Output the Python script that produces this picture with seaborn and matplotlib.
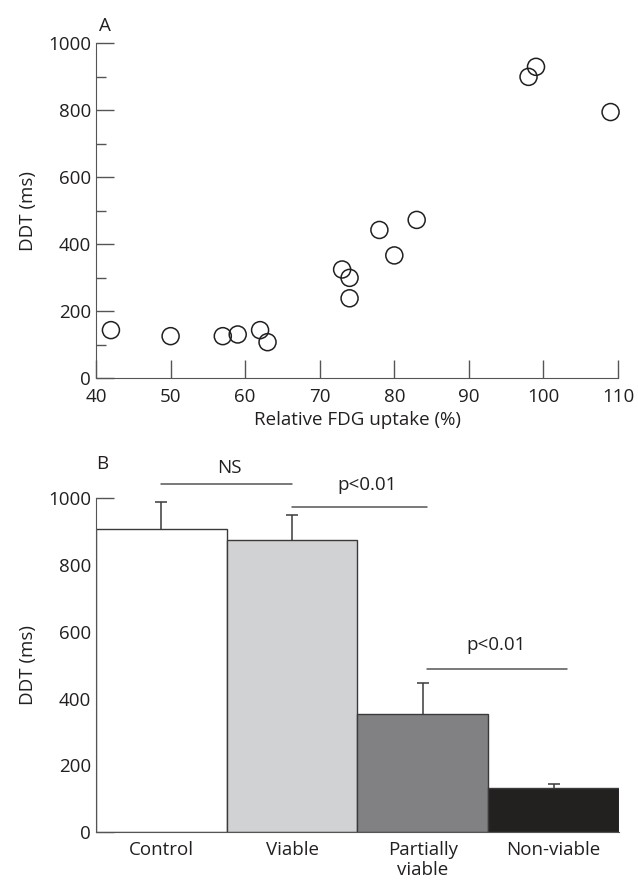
import matplotlib
matplotlib.use("Agg")
import matplotlib.pyplot as plt
import seaborn as sns
import pandas as pd
from matplotlib.ticker import MultipleLocator

# Panel A data: relative FDG uptake vs DDT
fdg_uptake = [42, 50, 57, 59, 62, 63, 73, 74, 74, 78, 80, 83, 98, 99, 109]
ddt_scatter = [143, 125, 125, 130, 143, 107, 324, 299, 238, 442, 366, 472, 899, 929, 794]

# Panel B data: group means and SD
groups = ["Control", "Viable", "Partially\nviable", "Non-viable"]
ddt_mean = [907, 876, 354, 132]
ddt_sd = [81, 74, 93, 12]
bar_colors = ["#ffffff", "#d1d2d4", "#808185", "#231f20"]

# significance brackets: (start, end, y, label, label_x, label_y)
sig_lines = [(0.0, 1.0, 1042, "NS", 0.52, 1090),
             (1.0, 2.03, 975, "p<0.01", 1.57, 1040),
             (2.03, 3.1, 489, "p<0.01", 2.56, 561)]

sns.set_style("ticks")
plt.rcParams["font.family"] = ["Open Sans", "DejaVu Sans"]
plt.rcParams["text.color"] = "#231f20"
plt.rcParams["axes.labelcolor"] = "#231f20"
plt.rcParams["xtick.color"] = "#555555"
plt.rcParams["ytick.color"] = "#555555"
plt.rcParams["xtick.labelcolor"] = "#231f20"
plt.rcParams["ytick.labelcolor"] = "#231f20"

fig = plt.figure(figsize=(6.38, 8.82), dpi=100)
ax1 = fig.add_axes([0.1505, 0.5714, 0.8182, 0.3798])
ax2 = fig.add_axes([0.1505, 0.0564, 0.8195, 0.3786])

fs = 13.5

# =========================
# PANEL A
# =========================
df_a = pd.DataFrame({"fdg": fdg_uptake, "ddt": ddt_scatter})
sns.scatterplot(data=df_a, x="fdg", y="ddt", ax=ax1, s=150,
                facecolor="none", edgecolor="#231f20", linewidth=1.1,
                clip_on=False, zorder=3)
ax1.set_xlim(40, 110)
ax1.set_ylim(0, 1000)
ax1.xaxis.set_major_locator(MultipleLocator(10))
ax1.yaxis.set_major_locator(MultipleLocator(200))
ax1.yaxis.set_minor_locator(MultipleLocator(100))
ax1.tick_params(axis="both", which="major", direction="in", length=13,
                width=1, labelsize=fs)
ax1.tick_params(axis="x", which="major", pad=7)
ax1.tick_params(axis="y", which="minor", direction="in", length=7, width=1)
ax1.set_xlabel("Relative FDG uptake (%)", fontsize=fs, labelpad=4)
ax1.set_ylabel("DDT (ms)", fontsize=fs, labelpad=8)
sns.despine(ax=ax1)
for sp in ax1.spines.values():
    sp.set_color("#555555")
ax1.text(0.005, 1.025, "A", transform=ax1.transAxes, fontsize=fs,
         ha="left", va="bottom")

# =========================
# PANEL B
# =========================
df_b = pd.DataFrame({"group": groups, "ddt": ddt_mean})
sns.barplot(data=df_b, x="group", y="ddt", hue="group", palette=bar_colors,
            legend=False, width=1.0, edgecolor="#3a3a3a", linewidth=1.0,
            ax=ax2, zorder=2)
# symmetric bars drawn behind the opaque bars so only the upper half shows
ax2.errorbar(x=range(len(groups)), y=ddt_mean, yerr=ddt_sd,
             fmt="none", ecolor="#3a3a3a", elinewidth=1.1, capsize=4,
             capthick=1.1, zorder=1)
ax2.set_xlim(-0.5, 3.5)
ax2.set_ylim(0, 1000)
ax2.yaxis.set_major_locator(MultipleLocator(200))
ax2.yaxis.set_minor_locator(MultipleLocator(100))
ax2.tick_params(axis="y", which="major", direction="in", length=13,
                width=1, labelsize=fs)
ax2.tick_params(axis="y", which="minor", direction="in", length=7, width=1)
ax2.tick_params(axis="x", length=0, labelsize=fs, pad=6)
ax2.set_xlabel("")
ax2.set_ylabel("DDT (ms)", fontsize=fs, labelpad=8)
sns.despine(ax=ax2)
for sp in ax2.spines.values():
    sp.set_color("#555555")

for x0, x1, yl, lab, tx, ty in sig_lines:
    ax2.plot([x0, x1], [yl, yl], color="#555555", lw=1.1, clip_on=False)
    ax2.text(tx, ty, lab, fontsize=fs, ha="center", va="center")

ax2.text(0.0, 1.075, "B", transform=ax2.transAxes, fontsize=fs,
         ha="left", va="bottom")

fig.savefig("out.png", dpi=100)
